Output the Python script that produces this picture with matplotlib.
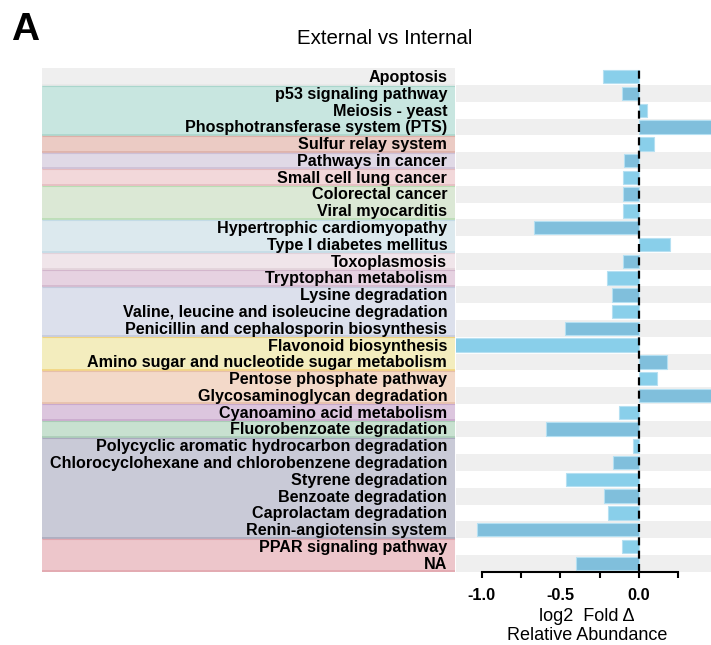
import matplotlib
matplotlib.use("Agg")
import matplotlib.pyplot as plt
from matplotlib.patches import Rectangle
import numpy as np

plt.rcParams['font.family'] = ['Liberation Sans', 'DejaVu Sans']

pathways = [
    "Apoptosis", "p53 signaling pathway", "Meiosis - yeast",
    "Phosphotransferase system (PTS)", "Sulfur relay system",
    "Pathways in cancer", "Small cell lung cancer", "Colorectal cancer",
    "Viral myocarditis", "Hypertrophic cardiomyopathy",
    "Type I diabetes mellitus", "Toxoplasmosis", "Tryptophan metabolism",
    "Lysine degradation", "Valine, leucine and isoleucine degradation",
    "Penicillin and cephalosporin biosynthesis", "Flavonoid biosynthesis",
    "Amino sugar and nucleotide sugar metabolism", "Pentose phosphate pathway",
    "Glycosaminoglycan degradation", "Cyanoamino acid metabolism",
    "Fluorobenzoate degradation", "Polycyclic aromatic hydrocarbon degradation",
    "Chlorocyclohexane and chlorobenzene degradation", "Styrene degradation",
    "Benzoate degradation", "Caprolactam degradation",
    "Renin-angiotensin system", "PPAR signaling pathway", "NA",
]
log2_fold = [
    -0.227, -0.106, 0.049, 0.50, 0.095,
    -0.095, -0.100, -0.104, -0.104, -0.665,
    0.197, -0.104, -0.201, -0.172, -0.174,
    -0.470, -1.20, 0.176, 0.117, 0.50,
    -0.125, -0.590, -0.038, -0.167, -0.466,
    -0.222, -0.195, -1.032, -0.108, -0.400,
]
group_sizes = [1, 3, 1, 1, 1, 2, 2, 1, 1, 3, 2, 2, 1, 1, 6, 2]
group_colors = [
    "#EFEFEF", "#C8E6E0", "#EBCBC4", "#E0D9E6", "#F2D8DA", "#DBE8D5",
    "#DCE9EE", "#F0E5EA", "#E6D2E1", "#DCE0EC", "#F3EDBE", "#F3D9C9",
    "#DCC6DE", "#C8E1D0", "#C9CAD7", "#EDC6CB",
]
border_colors = [
    "#E8E8E8", "#A9D6CC", "#DDB0A8", "#CDBFD6", "#E5BCC0", "#B9DDB3",
    "#C3DBE6", "#E2D2DA", "#D3B6CC", "#C4CADD", "#F2D47E", "#E6BFAA",
    "#C9A9CD", "#A9CDB6", "#A9AABD", "#E2A6AE",
]

W, H = 711, 645
fig = plt.figure(figsize=(W / 100, H / 100), dpi=100)

top_px, bot_px = 68.3, 571.7
ay = (H - bot_px) / H
ah = (bot_px - top_px) / H
axL = fig.add_axes([42 / W, ay, (455 - 42) / W, ah])
axR = fig.add_axes([456 / W, ay, (W - 456) / W, ah])

n = len(pathways)

# left panel: coloured group bands and labels
axL.set_xlim(0, 1)
axL.set_ylim(n - 0.5, -0.5)
axL.axis("off")
start = 0
for size, fc, ec in zip(group_sizes, group_colors, border_colors):
    y0 = start - 0.5
    axL.add_patch(Rectangle((0, y0), 1, size, facecolor=fc, edgecolor="none", zorder=1))
    axL.plot([0, 1], [y0 + size - 0.03, y0 + size - 0.03], color=ec, lw=1.2, zorder=2,
             solid_capstyle="butt")
    if start > 0:
        axL.plot([0, 1], [y0 + 0.03, y0 + 0.03], color=ec, lw=0.8, zorder=2,
                 solid_capstyle="butt")
    start += size
for i, name in enumerate(pathways):
    axL.text(0.981, i + 0.05, name, ha="right", va="center", fontsize=11.6,
             fontweight="bold", color="black", zorder=3)

# right panel: bars
y = np.arange(n)
axR.set_ylim(n - 0.5, -0.5)
axR.set_xlim(-1.163, 0.458)
for i in range(n):
    if i % 2 == 1:
        axR.axhspan(i - 0.5, i + 0.5, color="#EFEFEF", lw=0, zorder=0)
bar_colors = ["#89CFEA" if i % 2 == 0 else "#80BFDC" for i in range(n)]
axR.barh(y, log2_fold, height=0.8, color=bar_colors, edgecolor="#B5E0F2",
         linewidth=0.8, zorder=2)
axR.axvline(0, color="black", lw=1.6, linestyle=(0, (3.6, 2.4)), zorder=3)

for s in ["top", "right", "left"]:
    axR.spines[s].set_visible(False)
axR.spines["bottom"].set_bounds(-1.0, 0.25)
axR.spines["bottom"].set_linewidth(1.5)
axR.set_yticks([])
axR.set_xticks([-1.0, -0.5, 0.0])
axR.set_xticklabels(["-1.0", "-0.5", "0.0"], fontsize=11.8, fontweight="bold")
axR.set_xticks([-0.75, -0.25, 0.25], minor=True)
axR.tick_params(axis="x", which="both", direction="out", length=4.5, width=1.5,
                pad=7)
axR.set_xlabel("log2  Fold \u0394\nRelative Abundance", fontsize=13,
               linespacing=1.15)
axR.xaxis.set_label_coords(0.514, -0.072)
axR.xaxis.label.set_va("top")

fig.text(385 / W, 1 - 39 / H, "External vs Internal", ha="center", va="center",
         fontsize=14.8)
fig.text(11 / W, 1 - 29.5 / H, "A", ha="left", va="center", fontsize=28,
         fontweight="bold")

fig.savefig("out.png", dpi=100)
